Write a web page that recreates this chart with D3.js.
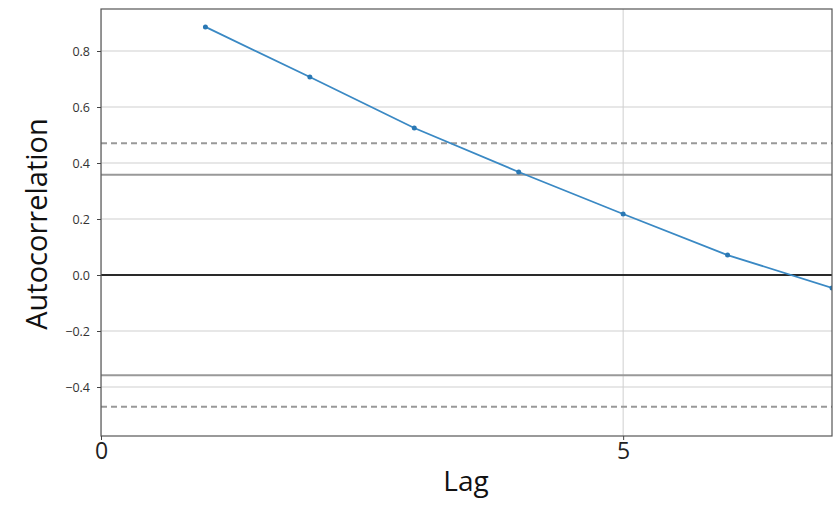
<!DOCTYPE html>
<html>
<head>
<meta charset="utf-8">
<script src="https://cdn.jsdelivr.net/npm/d3@7"></script>
<style>
  html, body { margin: 0; padding: 0; background: #fff; }
  svg { display: block; font-family: "Open Sans", sans-serif; }
</style>
</head>
<body>
<svg id="chart" width="834" height="505"></svg>
<script>
// Autocorrelation of the series at lags 1..7
const lags = [1, 2, 3, 4, 5, 6, 7];
const acf = [0.886, 0.707, 0.525, 0.368, 0.218, 0.071, -0.046];

// Confidence bands for n = 30 observations
const nObs = 30;
const z95 = 1.959963984540054;
const z99 = 2.5758293035489004;

const xTicks = [0, 5];
const yTicks = [-0.4, -0.2, 0.0, 0.2, 0.4, 0.6, 0.8];

const margin = { top: 9, right: 2, bottom: 69, left: 101 };
const W = 834, H = 505;
const iw = W - margin.left - margin.right;
const ih = H - margin.top - margin.bottom;

const x = d3.scaleLinear().domain([0, 7]).range([0, iw]);
const y = d3.scaleLinear().domain([-0.575, 0.95]).range([ih, 0]);

const svg = d3.select("#chart");
const g = svg.append("g").attr("transform", `translate(${margin.left},${margin.top})`);

// clip everything inside the axes box
svg.append("defs").append("clipPath").attr("id", "plot-clip")
  .append("rect").attr("width", iw).attr("height", ih);

const inner = g.append("g").attr("clip-path", "url(#plot-clip)");

// grid
inner.selectAll(".hgrid").data(yTicks).join("line")
  .attr("x1", 0).attr("x2", iw)
  .attr("y1", d => y(d)).attr("y2", d => y(d))
  .attr("stroke", "#cfcfcf").attr("stroke-width", 1);
inner.selectAll(".vgrid").data(xTicks).join("line")
  .attr("x1", d => x(d)).attr("x2", d => x(d))
  .attr("y1", 0).attr("y2", ih)
  .attr("stroke", "#cfcfcf").attr("stroke-width", 1);

// confidence bands
const bands = [
  { v: z99 / Math.sqrt(nObs), dash: "6,4" },
  { v: z95 / Math.sqrt(nObs), dash: null },
  { v: -z95 / Math.sqrt(nObs), dash: null },
  { v: -z99 / Math.sqrt(nObs), dash: "6,4" }
];
inner.selectAll(".band").data(bands).join("line")
  .attr("x1", 0).attr("x2", iw)
  .attr("y1", d => y(d.v)).attr("y2", d => y(d.v))
  .attr("stroke", "#999").attr("stroke-width", 2)
  .attr("stroke-dasharray", d => d.dash);

// zero line
inner.append("line")
  .attr("x1", 0).attr("x2", iw)
  .attr("y1", y(0)).attr("y2", y(0))
  .attr("stroke", "#2a2a2a").attr("stroke-width", 2);

// acf line and markers
const pts = lags.map((l, i) => [l, acf[i]]);
inner.append("path").datum(pts)
  .attr("fill", "none").attr("stroke", "#3a89c4").attr("stroke-width", 1.8)
  .attr("d", d3.line().x(d => x(d[0])).y(d => y(d[1])));
inner.selectAll(".pt").data(pts).join("circle")
  .attr("cx", d => x(d[0])).attr("cy", d => y(d[1])).attr("r", 2.5)
  .attr("fill", "#2a78b4");

// axes box
g.append("rect").attr("width", iw).attr("height", ih)
  .attr("fill", "none").attr("stroke", "#555").attr("stroke-width", 1.2);

// y axis ticks
const yAxis = g.append("g").call(
  d3.axisLeft(y).tickValues(yTicks).tickSize(4).tickPadding(7)
    .tickFormat(d => d3.format(".1f")(d).replace("-", "\u2212"))
);
yAxis.select(".domain").remove();
yAxis.selectAll("line").attr("stroke", "#444");
yAxis.selectAll("text").attr("font-size", 12.5).attr("fill", "#333")
  .attr("font-family", "Open Sans, sans-serif");

// x axis ticks
const xAxis = g.append("g").attr("transform", `translate(0,${ih})`).call(
  d3.axisBottom(x).tickValues(xTicks).tickSize(4).tickPadding(3).tickFormat(d3.format("d"))
);
xAxis.select(".domain").remove();
xAxis.selectAll("line").attr("stroke", "#444");
xAxis.selectAll("text").attr("font-size", 23).attr("fill", "#222")
  .attr("font-family", "Open Sans, sans-serif");

// axis labels
svg.append("text")
  .attr("x", 466).attr("y", 491)
  .attr("text-anchor", "middle").attr("font-size", 28).attr("fill", "#111")
  .text("Lag");
svg.append("text")
  .attr("transform", "translate(47,224) rotate(-90)")
  .attr("text-anchor", "middle").attr("font-size", 29).attr("fill", "#111")
  .text("Autocorrelation");
</script>
</body>
</html>
